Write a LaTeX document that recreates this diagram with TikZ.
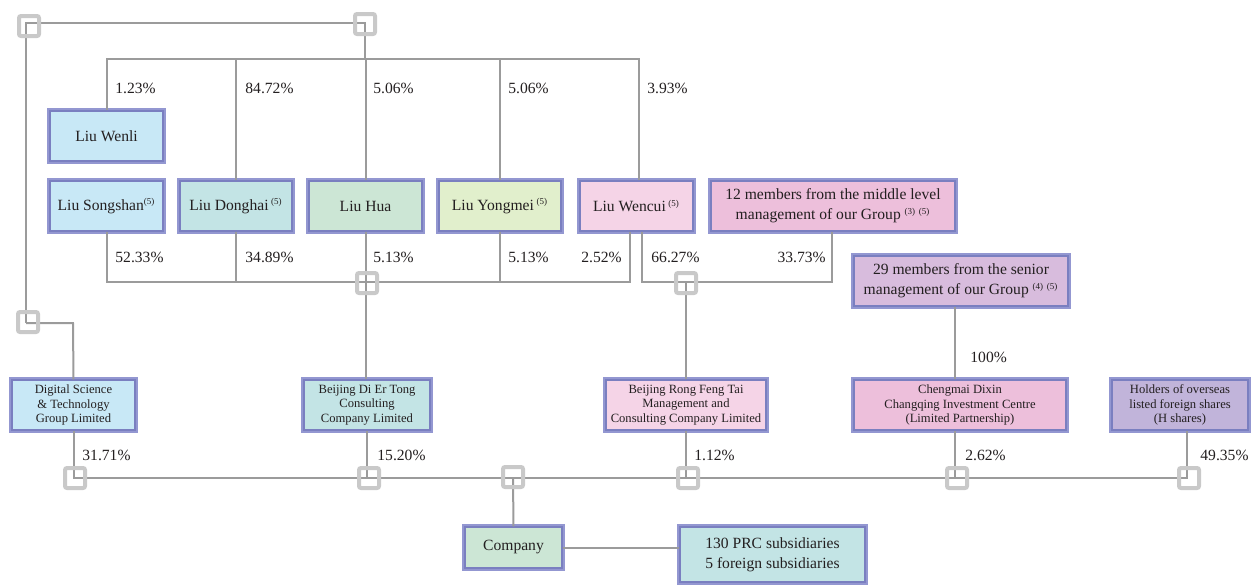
\documentclass[tikz,border=0pt]{standalone}
\usepackage{fontspec}
\setmainfont{Liberation Serif}
\usetikzlibrary{calc}
\definecolor{linegrey}{HTML}{9B9B9B}
\definecolor{sqgrey}{HTML}{C9C9C9}
\definecolor{boxout}{HTML}{9397D1}
\definecolor{boxin}{HTML}{7A7FC0}
\definecolor{cBlue}{HTML}{C8E8F6}
\definecolor{cTeal}{HTML}{C3E4E5}
\definecolor{cGreen}{HTML}{CCE6D5}
\definecolor{cYellow}{HTML}{E1EFCC}
\definecolor{cPink}{HTML}{F5D4E7}
\definecolor{cPinkB}{HTML}{EDBFDB}
\definecolor{cLav}{HTML}{D8BCDD}
\definecolor{cPurple}{HTML}{C1B4DA}
\definecolor{txt}{HTML}{231F20}
\newcommand\fsmain{\fontsize{7.8}{10}\selectfont}
\newcommand\fssmall{\fontsize{6.3}{7.3}\selectfont}
\newcommand\fnote[1]{\textsuperscript{\fontsize{4.5}{5}\selectfont(#1)}}
\begin{document}
\begin{tikzpicture}[x=0.5pt,y=-0.5pt,
  conn/.style={draw=linegrey, line width=1pt},
  box/.style={draw=boxin, line width=0.6pt, preaction={draw=boxout, line width=2.6pt},
    inner sep=0pt, align=center, text=txt, font=\fsmain, minimum height=25pt},
  sbox/.style={box, font=\fssmall},
  sq/.style={draw=sqgrey, line width=2pt, minimum size=10pt, inner sep=0pt, rounded corners=1pt},
  pct/.style={font=\fsmain, inner sep=0pt, text=txt, anchor=west},
  pctr/.style={pct, anchor=east}]
\useasboundingbox (0,0) rectangle (1254,586);

% --- boxes ---
\node[box, fill=cBlue, minimum width=56.5pt] (wenli) at (106.5,136) {Liu Wenli};
\node[box, fill=cBlue, minimum width=56.5pt] (songshan) at (106.5,206) {Liu Songshan\fnote{5}};
\node[box, fill=cTeal, minimum width=56pt] (donghai) at (236,206) {Liu Donghai\,\fnote{5}};
\node[box, fill=cGreen, minimum width=56.5pt] (hua) at (365.5,206) {Liu Hua};
\node[box, fill=cYellow, minimum width=61pt] (yongmei) at (500,206) {Liu Yongmei\,\fnote{5}};
\node[box, fill=cPink, minimum width=56.5pt] (wencui) at (636.5,206) {Liu Wencui\,\fnote{5}};
\node[box, fill=cPinkB, minimum width=122pt] (mid) at (833,206) {12 members from the middle level\\management of our Group \fnote{3}\,\fnote{5}};
\node[box, fill=cLav, minimum width=107pt] (senior) at (961,281) {29 members from the senior\\management of our Group \fnote{4}\,\fnote{5}};

\node[sbox, fill=cBlue, minimum width=61.5pt] (digital) at (73.5,405) {Digital Science\\\& Technology\\Group Limited};
\node[sbox, fill=cTeal, minimum width=63pt] (dier) at (367,405) {Beijing Di Er Tong\\Consulting\\Company Limited};
\node[sbox, fill=cPink, minimum width=80pt] (rong) at (686,405) {Beijing Rong Feng Tai\\Management and\\Consulting Company Limited};
\node[sbox, fill=cPinkB, minimum width=106pt] (cheng) at (960,405) {Chengmai Dixin\\Changqing Investment Centre\\(Limited Partnership)};
\node[sbox, fill=cPurple, minimum width=68pt] (holders) at (1180,405) {Holders of overseas\\listed foreign shares\\(H shares)};

\node[box, fill=cGreen, minimum width=48.5pt, minimum height=20.5pt] (company) at (513.5,547.5) {Company};
\node[box, fill=cTeal, minimum width=92.5pt, minimum height=27.5pt] (subs) at (772.5,554.5) {130 PRC subsidiaries\\5 foreign subsidiaries};

% --- junction coordinates ---
\coordinate (jA) at (26,23);
\coordinate (jB) at (365,23);
\coordinate (jL) at (26,323);
\coordinate (jLd) at (73,323);
\coordinate (busT) at (365,59);
\coordinate (busM) at (365,282);
\coordinate (busB) at (513,478);

% --- connectors ---
\draw[conn] (jL) -- (jA) -- (jB) -- (busT);
\draw[conn] (wenli.north) -- (wenli.north |- busT) -- ($(wencui.north |- busT)+(2.5,0)$) -- ($(wencui.north)+(2.5,0)$);
\draw[conn] (donghai.north) -- (donghai.north |- busT);
\draw[conn] (hua.north) -- (hua.north |- busT);
\draw[conn] (yongmei.north) -- (yongmei.north |- busT);

\draw[conn] (songshan.south) -- (songshan.south |- busM) -- ($(wencui.south |- busM)+(-6.5,0)$) -- ($(wencui.south)+(-6.5,0)$);
\draw[conn] (donghai.south) -- (donghai.south |- busM);
\draw[conn] (hua.south) -- (hua.south |- busM) -- (dier.north -| hua.south);
\draw[conn] (yongmei.south) -- (yongmei.south |- busM);

\draw[conn] ($(wencui.south)+(5.5,0)$) -- ($(wencui.south |- busM)+(5.5,0)$) -- ($(mid.south |- busM)+(-1,0)$) -- ($(mid.south)+(-1,0)$);
\draw[conn] (rong.north) -- (rong.north |- busM);

\draw[conn] (jL) -- (jLd) -- (digital.north);
\draw[conn] ($(senior.south)+(-6,0)$) -- ($(cheng.north)+(-5,0)$);

\draw[conn] (digital.south) -- (digital.south |- busB) -- ($(holders.south |- busB)+(7,0)$) -- ($(holders.south)+(7,0)$);
\draw[conn] (dier.south) -- (dier.south |- busB);
\draw[conn] (rong.south) -- (rong.south |- busB);
\draw[conn] ($(cheng.south)+(-5,0)$) -- ($(cheng.south |- busB)+(-5,0)$);
\draw[conn] (busB) -- (company.north);
\draw[conn] (company.east) -- (company.east -| subs.west);

% --- squares ---
\node[sq] (sqA) at (29,26) {};
\node[sq] (sqB) at (365,24) {};
\node[sq] (sqL) at (28,322) {};
\node[sq] (sqHua) at (367,283) {};
\node[sq] (sqRong) at (686,283) {};
\node[sq] (sq1) at (75,478) {};
\node[sq] (sq2) at (369,478) {};
\node[sq] (sq3) at (513,477) {};
\node[sq] (sq4) at (688,478) {};
\node[sq] (sq5) at (957,478) {};
\node[sq] (sq6) at (1189,478) {};

% --- percentages ---
\node[pct] (p1) at (115,88) {1.23\%};
\node[pct] (p2) at (245,88) {84.72\%};
\node[pct] (p3) at (373,88) {5.06\%};
\node[pct] (p4) at (508,88) {5.06\%};
\node[pct] (p5) at (647,88) {3.93\%};

\node[pct] (q1) at (115,257) {52.33\%};
\node[pct] (q2) at (245,257) {34.89\%};
\node[pct] (q3) at (373,257) {5.13\%};
\node[pct] (q4) at (508,257) {5.13\%};
\node[pctr] (q5) at (622,257) {2.52\%};
\node[pct] (q6) at (651,257) {66.27\%};
\node[pctr] (q7) at (826,257) {33.73\%};

\node[pct] (r1) at (970,357) {100\%};

\node[pct] (b1) at (82,455) {31.71\%};
\node[pct] (b2) at (377,455) {15.20\%};
\node[pct] (b3) at (694,455) {1.12\%};
\node[pct] (b4) at (965,455) {2.62\%};
\node[pct] (b5) at (1200,455) {49.35\%};
\end{tikzpicture}
\end{document}
